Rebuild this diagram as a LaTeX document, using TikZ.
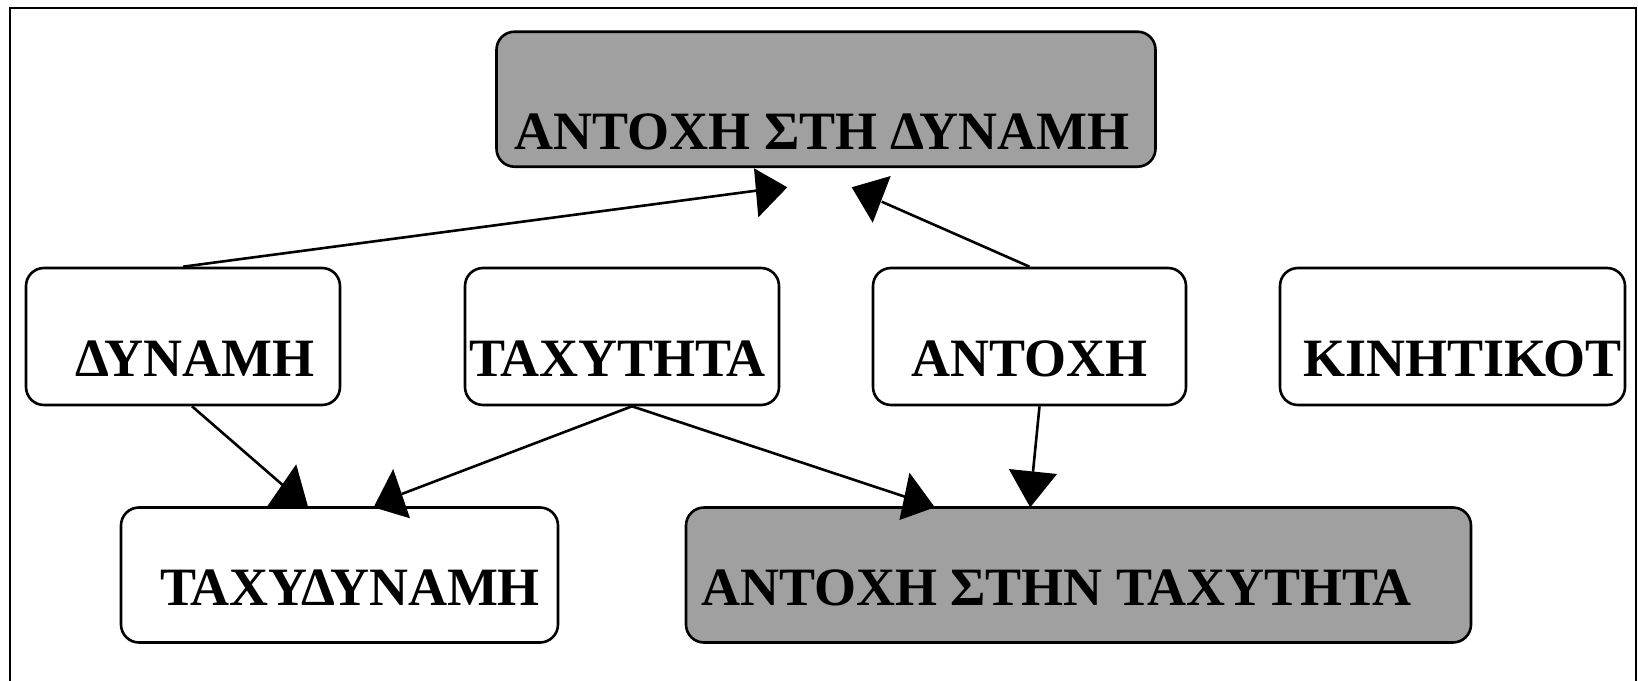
\documentclass[tikz,border=0pt]{standalone}
\usepackage{fontspec}
\setmainfont{Liberation Serif}
\usepackage{tikz}
\definecolor{boxgrey}{RGB}{160,160,160}

\begin{document}
\begin{tikzpicture}[x=1pt, y=-1pt,
		box_style/.style={rectangle,rounded corners=18pt,draw=black,line width=2.6pt,fill=white,inner sep=0pt,font=\bfseries\fontsize{54}{60}\selectfont},
		grey_style/.style={box_style,fill=boxgrey},
		top_row/.style={text height=117.5pt,text depth=17.5pt},
		mid_row/.style={text height=108.5pt,text depth=28.5pt},
		low_row/.style={text height=97.5pt,text depth=37.5pt},
		push_right/.style={execute at begin node={\hspace*{#1}}},
		push_left/.style={execute at end node={\hspace*{#1}}},
		edge_style/.style={draw=black,line width=2.6pt},
		head_style/.style={fill=black}]

		\useasboundingbox (0,0) rectangle (1638,680);
		\draw[line width=1.6pt] (10,690) -- (10,8) -- (1636,8) -- (1636,690);

		\node[grey_style,top_row,push_left=8pt,minimum width=659pt] (antdyn) at (826,99.2) {ΑΝΤΟΧΗ ΣΤΗ ΔΥΝΑΜΗ};
		\node[box_style,mid_row,push_right=24pt,minimum width=314pt] (dyn) at (183,336.5) {ΔΥΝΑΜΗ};
		\node[box_style,mid_row,push_left=9pt,minimum width=314pt] (tax) at (622,336.5) {ΤΑΧΥΤΗΤΑ};
		\node[box_style,mid_row,minimum width=313pt] (ant) at (1029.5,336.5) {ΑΝΤΟΧΗ};
		\node[box_style,mid_row,push_right=20pt,minimum width=345pt] (kin) at (1452.5,336.5) {ΚΙΝΗΤΙΚΟΤ};
		\node[box_style,low_row,push_right=21pt,minimum width=437pt] (taxdyn) at (339.5,575) {ΤΑΧΥΔΥΝΑΜΗ};
		\node[grey_style,low_row,push_left=44pt,minimum width=785pt] (antax) at (1078.5,575) {ΑΝΤΟΧΗ ΣΤΗΝ ΤΑΧΥΤΗΤΑ};

		% arrow ends
		\coordinate (e1) at (756,190.7);
		\coordinate (e2) at (881.7,201.7);
		\coordinate (e3) at (283.8,486);
		\coordinate (e4) at (401.7,494);
		\coordinate (e5) at (906.7,497.3);
		\coordinate (e6) at (1033,471.7);

		\draw[edge_style] (dyn.north) -- (e1);
		\draw[edge_style] (ant.north) -- (e2);
		\draw[edge_style] ([xshift=9pt]dyn.south) -- (e3);
		\draw[edge_style] ([xshift=10pt]tax.south) -- (e4);
		\draw[edge_style] ([xshift=10pt]tax.south) -- (e5);
		\draw[edge_style] ([xshift=10pt]ant.south) -- (e6);

		% heads
		\fill[head_style] (754,168.3) -- (787.3,187.3) -- (758.3,217.3) -- cycle;
		\fill[head_style] (851.7,187.3) -- (890.7,176) -- (872.7,222.7) -- cycle;
		\fill[head_style] (296.2,464.3) -- (267,506.7) -- (308,506.7) -- cycle;
		\fill[head_style] (393.2,469) -- (373.6,507.3) -- (410,518.3) -- cycle;
		\fill[head_style] (909.5,472.7) -- (934.8,507.3) -- (899.4,520) -- cycle;
		\fill[head_style] (1008.8,469) -- (1057,474) -- (1030.2,507.3) -- cycle;

\end{tikzpicture}
\end{document}
